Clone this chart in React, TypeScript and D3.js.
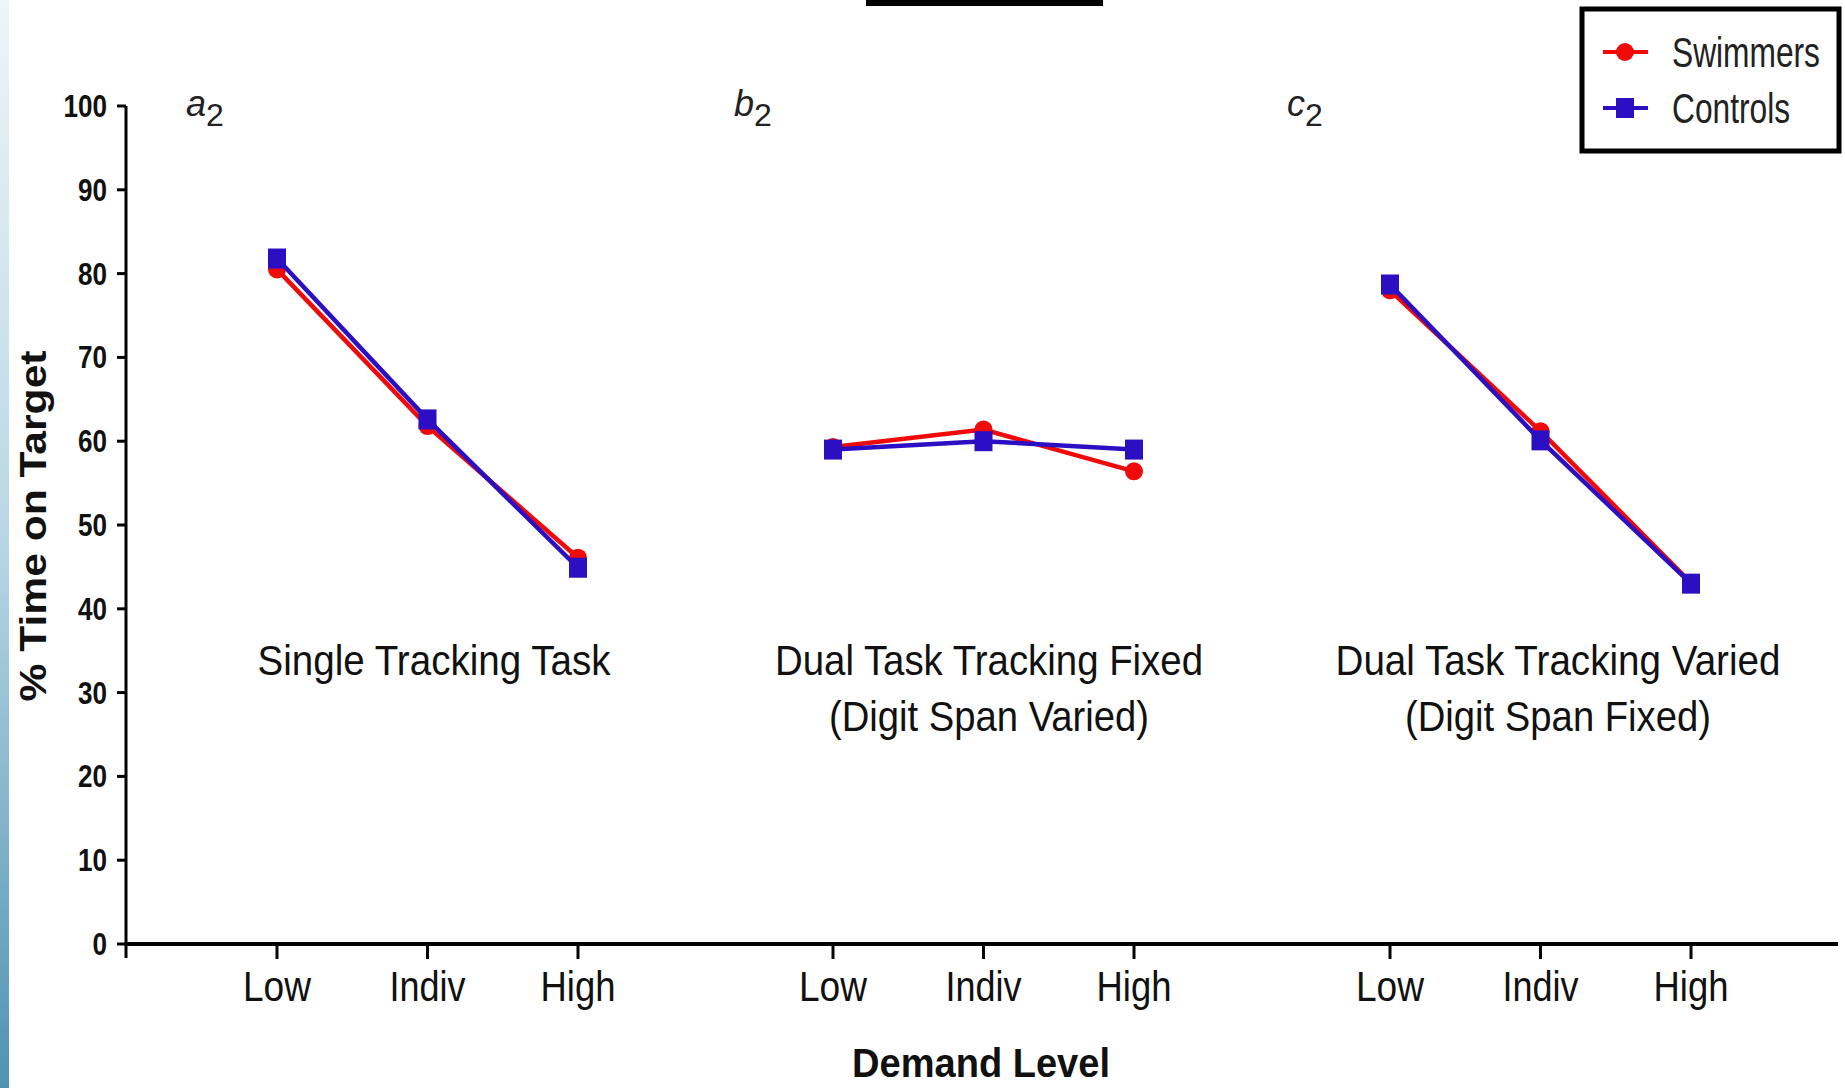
import React from "react";
import * as d3 from "d3";

const levels = ["Low", "Indiv", "High"];
const panelIds = ["a", "b", "c"];
const swimmers = [
  [80.5, 61.8, 46.1],
  [59.3, 61.4, 56.4],
  [78.0, 61.2, 43.1],
];
const controls = [
  [81.8, 62.6, 44.9],
  [59.0, 60.0, 59.0],
  [78.7, 60.1, 43.0],
];
const panelTitles = [
  ["Single Tracking Task"],
  ["Dual Task Tracking Fixed", "(Digit Span Varied)"],
  ["Dual Task Tracking Varied", "(Digit Span Fixed)"],
];
const seriesNames = ["Swimmers", "Controls"];
const yTitle = "% Time on Target";
const xTitle = "Demand Level";

// layout
const W = 1845;
const H = 1088;
const AX = 126;
const AXR = 1838;
const panelRanges: [number, number][] = [
  [277, 578],
  [833, 1134],
  [1390, 1691],
];
const panelLabelX = [186, 734, 1287];
const titleCx = [434, 989, 1558];
const titleLens = [[353], [428, 320], [445, 306]];
const tickLens: Record<string, number> = { Low: 68, Indiv: 76, High: 75 };
const RED = "#f00a0a";
const BLUE = "#2c0fc2";
const FONT = "'Liberation Sans', Arial, sans-serif";

export default function App() {
  const y = d3.scaleLinear().domain([0, 100]).range([944, 106]);
  const xs = panelRanges.map((r) => d3.scalePoint<string>().domain(levels).range(r));
  const line = (sx: d3.ScalePoint<string>) =>
    d3
      .line<number>()
      .x((_, i) => sx(levels[i]) as number)
      .y((v) => y(v));

  return (
    <svg
      width={W}
      height={H}
      style={{ position: "absolute", left: 0, top: 0, background: "#fff" }}
      fontFamily={FONT}
    >
      <defs>
        <linearGradient id="edge" x1="0" y1="0" x2="0" y2="1">
          <stop offset="0" stopColor="#eef5f8" />
          <stop offset="0.5" stopColor="#b7d6e4" />
          <stop offset="1" stopColor="#4f93b3" />
        </linearGradient>
      </defs>
      <rect x={0} y={0} width={W} height={H} fill="#fff" />
      <rect x={0} y={0} width={9} height={H} fill="url(#edge)" />

      {/* top cropped box */}
      <rect x={869} y={-40} width={231} height={43} fill="none" stroke="#000" strokeWidth={6} />

      {/* Y axis */}
      <line x1={AX} x2={AX} y1={y(100)} y2={y(0) + 14} stroke="#000" strokeWidth={3} />
      {y.ticks(10).map((t) => (
        <g key={t}>
          <line x1={AX - 9} x2={AX} y1={y(t)} y2={y(t)} stroke="#000" strokeWidth={3} />
          <text
            x={107}
            y={y(t) + 11}
            textAnchor="end"
            fontSize={31}
            fontWeight="bold"
            fill="#111"
            textLength={String(t).length * 14.5}
            lengthAdjust="spacingAndGlyphs"
          >
            {t}
          </text>
        </g>
      ))}
      <text
        transform={`translate(46,526) rotate(-90)`}
        textAnchor="middle"
        fontSize={36}
        fontWeight="bold"
        fill="#111"
        textLength={351}
        lengthAdjust="spacingAndGlyphs"
      >
        {yTitle}
      </text>

      {/* X axis */}
      <line x1={AX - 1.5} x2={AXR} y1={y(0)} y2={y(0)} stroke="#000" strokeWidth={4} />
      {xs.map((sx, p) =>
        levels.map((l) => (
          <g key={p + l}>
            <line x1={sx(l)} x2={sx(l)} y1={y(0)} y2={y(0) + 15} stroke="#000" strokeWidth={3} />
            <text
              x={sx(l)}
              y={1001}
              textAnchor="middle"
              fontSize={43}
              fill="#111"
              textLength={tickLens[l]}
              lengthAdjust="spacingAndGlyphs"
            >
              {l}
            </text>
          </g>
        ))
      )}
      <text
        x={981}
        y={1077}
        textAnchor="middle"
        fontSize={40}
        fontWeight="bold"
        fill="#111"
        textLength={258}
        lengthAdjust="spacingAndGlyphs"
      >
        {xTitle}
      </text>

      {/* panel labels */}
      {panelIds.map((id, p) => (
        <text key={id} x={panelLabelX[p]} y={116} fontSize={36} fontStyle="italic" fill="#222">
          {id}
          <tspan fontSize={32} fontStyle="normal" dy={10}>
            2
          </tspan>
        </text>
      ))}

      {/* panel titles */}
      {panelTitles.map((lines, p) =>
        lines.map((t, i) => (
          <text
            key={p + "-" + i}
            x={titleCx[p]}
            y={675 + i * 56}
            textAnchor="middle"
            fontSize={42}
            fill="#111"
            textLength={titleLens[p][i]}
            lengthAdjust="spacingAndGlyphs"
          >
            {t}
          </text>
        ))
      )}

      {/* data */}
      {xs.map((sx, p) => (
        <g key={"d" + p}>
          <path d={line(sx)(swimmers[p]) as string} fill="none" stroke={RED} strokeWidth={4.5} />
          {swimmers[p].map((v, i) => (
            <circle key={i} cx={sx(levels[i])} cy={y(v)} r={9} fill={RED} />
          ))}
          <path d={line(sx)(controls[p]) as string} fill="none" stroke={BLUE} strokeWidth={4.5} />
          {controls[p].map((v, i) => (
            <rect key={i} x={(sx(levels[i]) as number) - 9} y={y(v) - 10} width={18} height={20} fill={BLUE} />
          ))}
        </g>
      ))}

      {/* legend */}
      <rect x={1582} y={9} width={257} height={142} fill="#fff" stroke="#000" strokeWidth={5} />
      {seriesNames.map((n, i) => {
        const cy = 52 + i * 56;
        const col = i === 0 ? RED : BLUE;
        return (
          <g key={n}>
            <line x1={1603} x2={1648} y1={cy} y2={cy} stroke={col} strokeWidth={4} />
            {i === 0 ? (
              <circle cx={1625} cy={cy} r={9} fill={col} />
            ) : (
              <rect x={1616} y={cy - 10} width={18} height={20} fill={col} />
            )}
            <text transform={`translate(1672,${cy + 15}) scale(0.755,1)`} fontSize={42} fill="#222">
              {n}
            </text>
          </g>
        );
      })}
    </svg>
  );
}
